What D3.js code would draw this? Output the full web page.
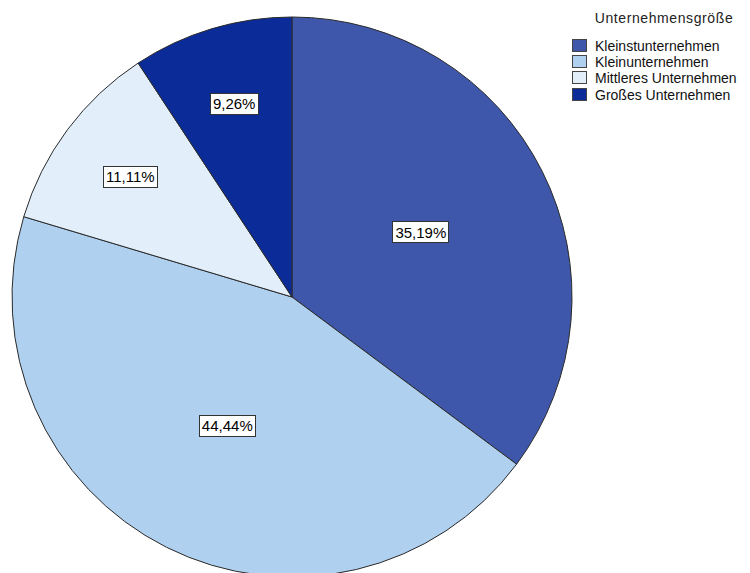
<!DOCTYPE html>
<html><head><meta charset="utf-8">
<script src="https://cdn.jsdelivr.net/npm/d3@7"></script>
<style>body{margin:0;background:#fff}svg{display:block}text{font-family:"Liberation Sans",Arial,sans-serif}</style>
</head><body><svg id="c" width="750" height="573"></svg>
<script>
const categories = ["Kleinstunternehmen","Kleinunternehmen","Mittleres Unternehmen","Großes Unternehmen"];
const counts = [19, 24, 6, 5];
const percentLabels = ["35,19%","44,44%","11,11%","9,26%"];
const colors = ["#3E57AB","#AFD0EE","#E2EFFB","#0B2C98"];
const legendTitle = "Unternehmensgröße";

const svg = d3.select("#c");
const cx = 292, cy = 297, R = 280;
const pie = d3.pie().sort(null).value(d => d)(counts);
const arc = d3.arc().innerRadius(0).outerRadius(R);
const g = svg.append("g").attr("transform", `translate(${cx},${cy})`);
g.selectAll("path").data(pie).join("path")
  .attr("d", arc).attr("fill", (d,i) => colors[i])
  .attr("stroke", "#2a2a2a").attr("stroke-width", 1);

const total = d3.sum(counts);
pie.forEach((d,i) => {
  const frac = counts[i]/total;
  const lr = frac > 0.2 ? R*0.515 : R*0.72;
  const [x,y] = d3.arc().innerRadius(lr).outerRadius(lr).centroid(d);
  const t = g.append("text").attr("x", x).attr("y", y).attr("text-anchor","middle")
    .attr("dominant-baseline","central").attr("font-size", 15).attr("fill","#000").text(percentLabels[i]);
  const bb = t.node().getBBox();
  g.insert("rect", "text").attr("x", Math.round(bb.x-3)+0.5).attr("y", Math.round(y-11)+0.5)
    .attr("width", Math.round(bb.width+5)).attr("height", 21)
    .attr("fill","#fff").attr("stroke","#333").attr("stroke-width",1);
});
g.selectAll("text").raise();

const lg = svg.append("g");
lg.append("text").attr("x", 664).attr("y", 23).attr("text-anchor","middle").attr("font-size", 14)
  .attr("letter-spacing", 0.6).attr("fill","#222").text(legendTitle);
categories.forEach((c,i) => {
  const base = 50.5 + i*16.4;
  lg.append("rect").attr("x", 572.5).attr("y", Math.round(base-12)+0.5).attr("width", 14).attr("height", 12)
    .attr("fill", colors[i]).attr("stroke","#444").attr("stroke-width",1);
  lg.append("text").attr("x", 595).attr("y", base).attr("font-size", 14).attr("fill","#111").text(c);
});
</script></body></html>
